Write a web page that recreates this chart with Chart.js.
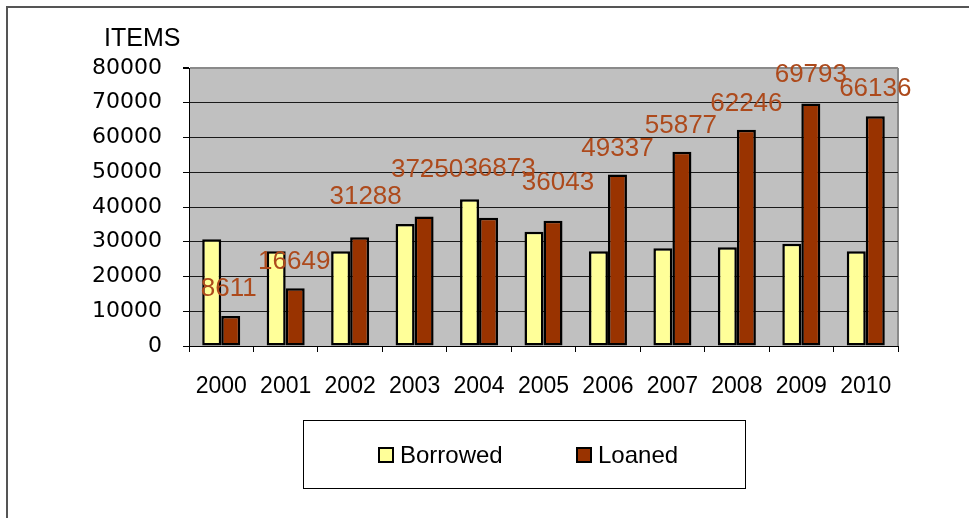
<!DOCTYPE html>
<html>
<head>
<meta charset="utf-8">
<script src="https://cdn.jsdelivr.net/npm/chart.js@4.4.0/dist/chart.umd.min.js"></script>
<style>
  html, body { margin: 0; padding: 0; background: #fff; }
  #wrap { width: 969px; height: 518px; }
</style>
</head>
<body>
<div id="wrap"><canvas id="myChart" width="969" height="518"></canvas></div>
<script>
// values
const years = ['2000', '2001', '2002', '2003', '2004', '2005', '2006', '2007', '2008', '2009', '2010'];
const borrowed = [30700, 27300, 27300, 35100, 42200, 32900, 27300, 28100, 28400, 29400, 27300];
const loaned = [8611, 16649, 31288, 37250, 36873, 36043, 49337, 55877, 62246, 69793, 66136];
const yMax = 80000;
const yStep = 10000;

const sansFont = "'Liberation Sans', Arial, sans-serif";
const labelColor = '#ad4a1c';

// small nudges so the value labels sit where they were dragged in the original
const labelShiftX = [-2, -1, 6, 3, 11, 5, 0, -1, 0, 0, 0];
const labelShiftY = [-1, 0, -14, -21, -23, -12, 0, 0, 0, -3, -1];

const plotBg = {
    id: 'plotBg',
    beforeDraw(chart) {
        const { ctx, chartArea: a } = chart;
        ctx.save();
        // outer frame (top + left only, the rest is cut off)
        ctx.strokeStyle = '#555';
        ctx.lineWidth = 2;
        ctx.beginPath();
        ctx.moveTo(7, chart.height);
        ctx.lineTo(7, 7);
        ctx.lineTo(chart.width, 7);
        ctx.stroke();
        // grey plot area
        ctx.fillStyle = '#c0c0c0';
        ctx.fillRect(a.left, a.top, a.width, a.height);
        ctx.strokeStyle = '#8a8a8a';
        ctx.beginPath();
        ctx.moveTo(a.right, a.top);
        ctx.lineTo(a.right, a.bottom);
        ctx.stroke();
        ctx.restore();
    }
};

const extras = {
    id: 'extras',
    afterDraw(chart) {
        const { ctx, chartArea: a } = chart;
        ctx.save();

        // axis caption
        ctx.fillStyle = '#000';
        ctx.font = '25px ' + sansFont;
        ctx.textAlign = 'left';
        ctx.textBaseline = 'middle';
        ctx.fillText('ITEMS', a.left - 85, 39);

        // value labels on the Loaned bars
        const meta = chart.getDatasetMeta(1);
        ctx.fillStyle = labelColor;
        ctx.font = '26px ' + sansFont;
        ctx.textAlign = 'center';
        meta.data.forEach((bar, i) => {
            ctx.fillText(String(loaned[i]), bar.x + labelShiftX[i], bar.y - 26 + labelShiftY[i]);
        });

        // boxed legend
        ctx.fillStyle = '#fff';
        ctx.strokeStyle = '#000';
        ctx.lineWidth = 1;
        ctx.fillRect(303.5, 420.5, 442, 68);
        ctx.strokeRect(303.5, 420.5, 442, 68);
        const boxX = [379, 577];
        ctx.font = '24px ' + sansFont;
        ctx.textAlign = 'left';
        chart.data.datasets.forEach((ds, i) => {
            ctx.fillStyle = ds.backgroundColor;
            ctx.fillRect(boxX[i], 448, 14, 14);
            ctx.lineWidth = 2;
            ctx.strokeStyle = '#000';
            ctx.strokeRect(boxX[i], 448, 14, 14);
            ctx.fillStyle = '#000';
            ctx.fillText(ds.label, boxX[i] + 21, 456);
        });
        ctx.restore();
    }
};

const ctx = document.getElementById('myChart');
new Chart(ctx, {
    type: 'bar',
    data: {
        labels: years,
        datasets: [
            {
                label: 'Borrowed',
                data: borrowed,
                backgroundColor: '#ffff99',
                borderColor: '#000',
                borderWidth: 2.5,
                borderSkipped: false,
                categoryPercentage: 0.59,
                barPercentage: 1.0
            },
            {
                label: 'Loaned',
                data: loaned,
                backgroundColor: '#993300',
                borderColor: '#000',
                borderWidth: 2.5,
                borderSkipped: false,
                categoryPercentage: 0.59,
                barPercentage: 1.0
            }
        ]
    },
    options: {
        responsive: false,
        animation: false,
        layout: { padding: { left: 90, right: 71, top: 68, bottom: 112 } },
        plugins: {
            legend: { display: false },
            tooltip: { enabled: false }
        },
        scales: {
            x: {
                offset: true,
                grid: {
                    offset: true,
                    drawOnChartArea: false,
                    drawTicks: true,
                    tickLength: 6,
                    tickColor: '#000'
                },
                border: { color: '#000', width: 1 },
                ticks: {
                    color: '#000',
                    font: { family: sansFont, size: 23 },
                    padding: 21,
                    maxRotation: 0,
                    autoSkip: false
                },
                afterFit: (axis) => { axis.height = 60; }
            },
            y: {
                min: 0,
                max: yMax,
                ticks: {
                    stepSize: yStep,
                    color: '#000',
                    font: { family: "'DejaVu Sans', sans-serif", size: 22 },
                    padding: 21,
                    callback: (v) => String(v)
                },
                grid: {
                    color: (c) => (c.tick && c.tick.value === yMax ? '#8a8a8a' : '#1a1a1a'),
                    lineWidth: (c) => (c.tick && c.tick.value === yMax ? 2 : 1),
                    tickColor: '#000',
                    tickLength: 6
                },
                border: { color: '#000', width: 1 },
                afterFit: (axis) => { axis.width = 99; }
            }
        }
    },
    plugins: [plotBg, extras]
});
</script>
</body>
</html>
